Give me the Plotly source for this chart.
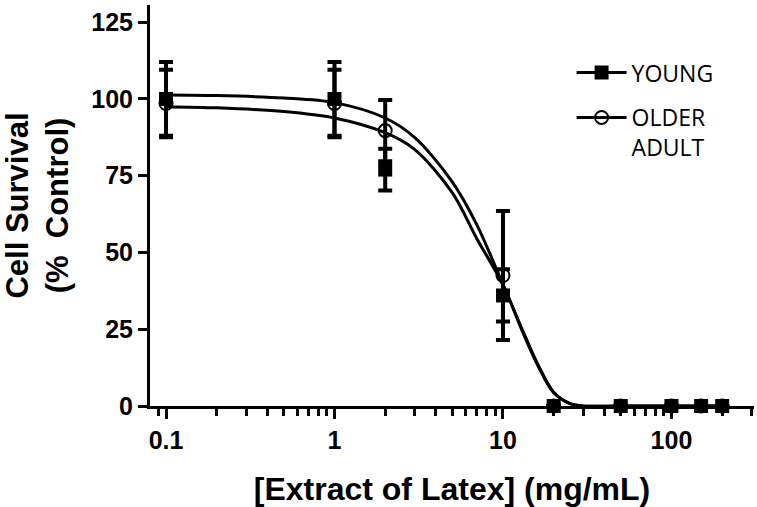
"""
Cell survival vs latex extract concentration (young vs older adult)
"""

import plotly.graph_objects as go

# Dados
DOSE = [0.1, 1, 2, 10, 20, 50, 100, 150, 200]

YOUNG_MEAN = [100, 100, 77, 36, 0, 0, 0, 0, 0]
YOUNG_ERR = [12, 12, 6.8, 8.5, 0, 0, 0, 0, 0]

OLDER_MEAN = [98.5, 98.5, 89.7, 42.5, 0, 0, 0, 0, 0]
OLDER_ERR = [11, 11, 10, 21, 0, 0, 0, 0, 0]

# curvas ajustadas
FIT_X = [0.1, 0.2, 0.5, 1, 2, 3, 5, 7, 10, 13, 16, 20, 25, 30, 50, 200]
YOUNG_FIT_Y = [101.3, 101.1, 100.3, 98.8, 93.8, 87.4, 73, 59, 39.6, 25, 13.9, 4.5, 0.8, 0, 0, 0]
OLDER_FIT_Y = [97.5, 97.1, 95.9, 93.8, 89, 83.5, 69.5, 54.5, 39.5, 24.5, 13.5, 4.3, 0.8, 0, 0, 0]

Y_TICKS = [0, 25, 50, 75, 100, 125]

BLACK = '#000000'
BOLD_FONT = 'Liberation Sans, Arial, sans-serif'

fig = go.Figure()

# curvas
for fit_y in (OLDER_FIT_Y, YOUNG_FIT_Y):
    fig.add_trace(go.Scatter(
        x=FIT_X, y=fit_y, mode='lines',
        line=dict(color=BLACK, width=3, shape='spline', smoothing=0.9),
        showlegend=False, hoverinfo='skip'
    ))

# pontos com barras de erro
fig.add_trace(go.Scatter(
    x=DOSE, y=OLDER_MEAN, mode='markers', name='OLDER<br>ADULT',
    marker=dict(symbol='circle-open', size=13, color=BLACK, line=dict(width=2, color=BLACK)),
    error_y=dict(type='data', array=OLDER_ERR, color=BLACK, thickness=4, width=7),
    cliponaxis=False, showlegend=False
))
fig.add_trace(go.Scatter(
    x=DOSE, y=YOUNG_MEAN, mode='markers', name='YOUNG',
    marker=dict(symbol='square', size=14, color=BLACK),
    error_y=dict(type='data', array=YOUNG_ERR, color=BLACK, thickness=4, width=7),
    cliponaxis=False, showlegend=False
))

# entradas da legenda (linha + símbolo)
fig.add_trace(go.Scatter(
    x=[None], y=[None], mode='lines+markers', name='YOUNG', legendgroup='young',
    line=dict(color=BLACK, width=3),
    marker=dict(symbol='square', size=14, color=BLACK)
))
fig.add_trace(go.Scatter(
    x=[None], y=[None], mode='lines+markers', name='OLDER<br>ADULT', legendgroup='older',
    line=dict(color=BLACK, width=3),
    marker=dict(symbol='circle-open', size=13, color=BLACK, line=dict(width=2, color=BLACK))
))

fig.update_layout(
    width=757,
    height=507,
    margin=dict(l=150, r=3, t=5, b=101),
    paper_bgcolor='white',
    plot_bgcolor='white',
    showlegend=True,
    legend=dict(
        x=0.698, y=0.885, xanchor='left', yanchor='top',
        font=dict(family='Open Sans, sans-serif', size=23, color=BLACK),
        traceorder='grouped', tracegroupgap=12, valign='top',
        itemwidth=50,
        bgcolor='rgba(0,0,0,0)'
    ),
    xaxis=dict(
        type='log',
        range=[-1.095, 2.49],
        tickmode='linear', tick0=0, dtick=1,
        ticks='outside', ticklen=10, tickwidth=3, tickcolor=BLACK,
        minor=dict(dtick='D1', ticks='outside', ticklen=7, tickwidth=2.5,
                   tickcolor=BLACK, showgrid=False),
        showline=True, linewidth=3, linecolor=BLACK,
        showgrid=False, zeroline=False,
        tickfont=dict(family=BOLD_FONT, size=25, color=BLACK, weight='bold'),
        title=dict(text='[Extract of Latex] (mg/mL)', standoff=26,
                   font=dict(family=BOLD_FONT, size=32, color=BLACK, weight='bold'))
    ),
    yaxis=dict(
        range=[0, 130.6],
        tickmode='array', tickvals=Y_TICKS,
        ticks='outside', ticklen=9, tickwidth=3, tickcolor=BLACK,
        showline=True, linewidth=3, linecolor=BLACK,
        showgrid=False, zeroline=False,
        tickfont=dict(family=BOLD_FONT, size=25, color=BLACK, weight='bold'),
        title=dict(text='Cell Survival<br>(%  Control)', standoff=16,
                   font=dict(family=BOLD_FONT, size=31, color=BLACK, weight='bold'))
    )
)

# sem margem no body, para o gráfico começar no canto da janela
fig.write_html("out.html", config={'displayModeBar': False},
               post_script="document.body.style.margin = '0';")
